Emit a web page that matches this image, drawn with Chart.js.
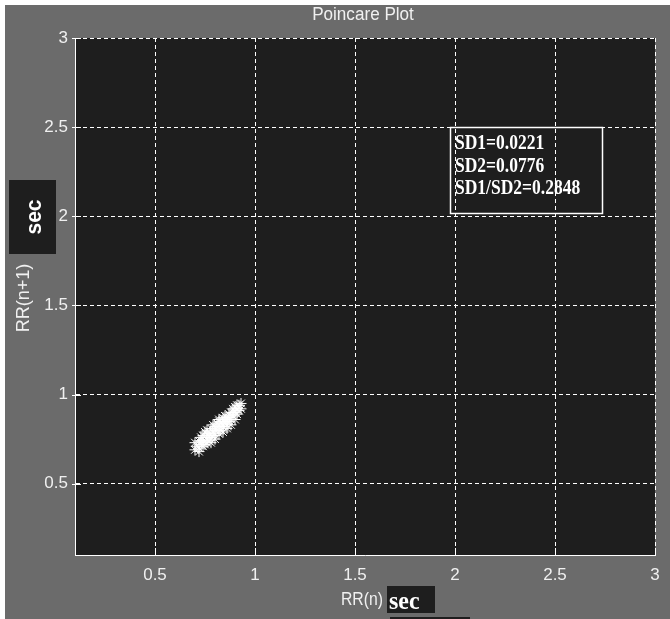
<!DOCTYPE html>
<html>
<head>
<meta charset="utf-8">
<script src="https://cdn.jsdelivr.net/npm/chart.js@4.4.0/dist/chart.umd.min.js"></script>
<style>
  html, body { margin: 0; padding: 0; background: #ffffff; }
  #wrap { width: 670px; height: 619px; }
</style>
</head>
<body>
<div id="wrap"><canvas id="poincare" width="670" height="619"></canvas></div>
<script>
// Poincare plot - RR(n) contra RR(n+1)

const xTicks = [0.5, 1, 1.5, 2, 2.5, 3];
const yTicks = [0.5, 1, 1.5, 2, 2.5, 3];
const xTickLabels = ['0.5', '1', '1.5', '2', '2.5', '3'];
const yTickLabels = ['0.5', '1', '1.5', '2', '2.5', '3'];

const rrN = [0.71, 0.72, 0.72, 0.73, 0.73, 0.74, 0.74, 0.75, 0.75, 0.75,
             0.76, 0.76, 0.77, 0.77, 0.78, 0.78, 0.78, 0.79, 0.79, 0.80,
             0.80, 0.80, 0.81, 0.81, 0.82, 0.82, 0.82, 0.83, 0.83, 0.84,
             0.84, 0.84, 0.85, 0.85, 0.86, 0.86, 0.86, 0.87, 0.87, 0.88,
             0.88, 0.88, 0.89, 0.89, 0.90, 0.90, 0.90, 0.91, 0.91, 0.92,
             0.92, 0.93, 0.77, 0.79, 0.81, 0.83, 0.85, 0.87, 0.74, 0.76,
             0.80, 0.84, 0.89, 0.73, 0.86, 0.91, 0.70, 0.72, 0.70, 0.93,
             0.76, 0.82];
const rrN1 = [0.71, 0.74, 0.70, 0.76, 0.72, 0.71, 0.77, 0.74, 0.79, 0.72,
              0.76, 0.80, 0.74, 0.78, 0.81, 0.76, 0.73, 0.79, 0.83, 0.77,
              0.82, 0.75, 0.80, 0.84, 0.78, 0.82, 0.86, 0.80, 0.84, 0.87,
              0.82, 0.79, 0.85, 0.88, 0.83, 0.87, 0.81, 0.89, 0.85, 0.86,
              0.90, 0.83, 0.88, 0.92, 0.86, 0.90, 0.93, 0.89, 0.92, 0.91,
              0.94, 0.92, 0.76, 0.77, 0.82, 0.82, 0.84, 0.87, 0.74, 0.78,
              0.80, 0.85, 0.90, 0.74, 0.85, 0.94, 0.69, 0.68, 0.73, 0.95,
              0.73, 0.85];

const statLines = ['SD1=0.0221', 'SD2=0.0776', 'SD1/SD2=0.2848'];
const plotTitle = 'Poincare Plot';
const xLabel = 'RR(n)';
const yLabel = 'RR(n+1)';
const unitLabel = 'sec';

const puntos = rrN.map((v, i) => ({ x: v, y: rrN1[i] }));

const FONDO = '#6b6b6b';
const AREA = '#1e1e1e';
const TEXTO = '#f0f0f0';
const SANS = '"Liberation Sans", Arial, sans-serif';
const SERIF = '"Liberation Serif", "Times New Roman", serif';

// texto con compresion horizontal (la fuente original es estrecha)
function textoEstrecho(ctx, txt, x, y, font, escala, align, rot) {
    ctx.save();
    ctx.translate(x, y);
    if (rot) ctx.rotate(rot);
    ctx.scale(escala, 1);
    ctx.font = font;
    ctx.textAlign = align;
    ctx.fillText(txt, 0, 0);
    ctx.restore();
}

// Fondo gris estilo MATLAB y area de trazado oscura
const fondoPlugin = {
    id: 'fondo',
    beforeDraw(chart) {
        const ctx = chart.ctx;
        const a = chart.chartArea;
        ctx.save();
        ctx.fillStyle = '#ffffff';
        ctx.fillRect(0, 0, chart.width, chart.height);
        ctx.fillStyle = FONDO;
        ctx.fillRect(5, 5, chart.width - 5, chart.height - 5);
        ctx.fillStyle = AREA;
        ctx.fillRect(a.left, a.top, a.right - a.left, a.bottom - a.top);
        ctx.restore();
    }
};

// Textos, marcas interiores y cuadro de estadisticas
const decoPlugin = {
    id: 'deco',
    afterDraw(chart) {
        const ctx = chart.ctx;
        const a = chart.chartArea;
        const sx = chart.scales.x;
        const sy = chart.scales.y;
        ctx.save();

        // marcas de tick
        ctx.strokeStyle = '#ffffff';
        ctx.lineWidth = 1;
        ctx.beginPath();
        xTicks.forEach(v => {
            const px = Math.round(sx.getPixelForValue(v)) + 0.5;
            ctx.moveTo(px, a.bottom);
            ctx.lineTo(px, a.bottom - 7);
        });
        yTicks.forEach(v => {
            const py = Math.round(sy.getPixelForValue(v)) + 0.5;
            ctx.moveTo(a.left - 3, py);
            ctx.lineTo(a.left + 6, py);
        });
        ctx.stroke();

        ctx.textBaseline = 'middle';

        // titulo
        ctx.fillStyle = TEXTO;
        textoEstrecho(ctx, plotTitle, 363, 15, '18px ' + SANS, 0.95, 'center');

        // etiqueta eje x + caja "sec"
        textoEstrecho(ctx, xLabel, 383, 600, '19px ' + SANS, 0.83, 'right');
        ctx.fillStyle = AREA;
        ctx.fillRect(387, 586, 48, 27);
        ctx.fillRect(390, 617, 80, 2);
        ctx.fillStyle = '#ffffff';
        ctx.textBaseline = 'alphabetic';
        textoEstrecho(ctx, unitLabel, 389, 609, 'bold 26px ' + SERIF, 0.92, 'left');

        // etiqueta eje y + caja "sec"
        ctx.textBaseline = 'middle';
        ctx.fillStyle = TEXTO;
        textoEstrecho(ctx, yLabel, 24, 298, '19px ' + SANS, 0.95, 'center', -Math.PI / 2);

        ctx.fillStyle = AREA;
        ctx.fillRect(9, 180, 47, 74);
        ctx.fillStyle = '#ffffff';
        textoEstrecho(ctx, unitLabel, 35, 217, 'bold 22px ' + SANS, 0.95, 'center', -Math.PI / 2);

        // cuadro SD1 / SD2
        ctx.strokeStyle = '#ffffff';
        ctx.lineWidth = 1.5;
        ctx.strokeRect(450.5, 127.5, 152, 86);
        ctx.fillStyle = '#ffffff';
        ctx.textBaseline = 'alphabetic';
        statLines.forEach((t, i) => {
            textoEstrecho(ctx, t, 455, 149 + i * 22.5, 'bold 20px ' + SERIF, 0.875, 'left');
        });

        ctx.restore();
    }
};

const ejeComun = (ticksLista, etiquetas) => ({
    type: 'linear',
    min: 0.1,
    max: 3,
    afterBuildTicks: s => { s.ticks = ticksLista.map(v => ({ value: v })); },
    grid: {
        color: '#ffffff',
        lineWidth: 1,
        drawTicks: false
    },
    // en v4 border.dash define el punteado de las lineas de grid
    border: { display: true, color: '#ffffff', width: 1, dash: [4, 3] },
    ticks: {
        color: TEXTO,
        font: { family: SANS, size: 17 },
        callback: (v, i) => etiquetas[i]
    }
});

const ejeX = ejeComun(xTicks, xTickLabels);
ejeX.ticks.padding = 10;
ejeX.afterFit = s => { s.height = 64; };

const ejeY = ejeComun(yTicks, yTickLabels);
ejeY.ticks.padding = 7;
ejeY.afterFit = s => { s.width = 75; };

new Chart(document.getElementById('poincare'), {
    type: 'scatter',
    data: {
        datasets: [{
            label: 'RR',
            data: puntos,
            pointStyle: 'star',
            radius: 5.5,
            borderColor: '#ffffff',
            backgroundColor: '#ffffff',
            borderWidth: 1,
            showLine: false
        }]
    },
    options: {
        responsive: false,
        animation: false,
        devicePixelRatio: 1,
        layout: { padding: { left: 0, top: 38, right: 15, bottom: 0 } },
        scales: { x: ejeX, y: ejeY },
        plugins: {
            legend: { display: false },
            tooltip: { enabled: false }
        }
    },
    plugins: [fondoPlugin, decoPlugin]
});
</script>
</body>
</html>
